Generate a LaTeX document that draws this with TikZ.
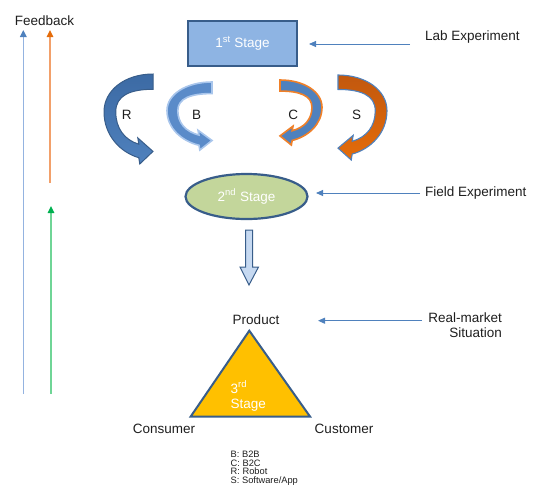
\documentclass[tikz,border=0pt]{standalone}
\usepackage{fontspec}
\setmainfont{Liberation Sans}
\usetikzlibrary{arrows.meta,shapes.geometric}

\definecolor{ink}{HTML}{1E1E1E}
\definecolor{edgeblue}{HTML}{385D8A}
\definecolor{midblue}{HTML}{4F81BD}
\definecolor{deepblue}{HTML}{3C6AA4}
\definecolor{paleblue}{HTML}{8EB4E3}
\definecolor{glowblue}{HTML}{A9C6EC}
\definecolor{softblue}{HTML}{5A8BC9}
\definecolor{orangeA}{HTML}{E46C0A}
\definecolor{orangeB}{HTML}{F08028}
\definecolor{rust}{HTML}{C2580E}
\definecolor{stagegreen}{HTML}{C3D69B}
\definecolor{gold}{HTML}{FFC000}
\definecolor{arrowfill}{HTML}{C6D9F1}
\definecolor{fbblue}{HTML}{94B3E0}
\definecolor{fborange}{HTML}{F2A06A}
\definecolor{fbgreen}{HTML}{6FD596}
\definecolor{fbgreenhead}{HTML}{00B050}

% Curved ribbon arrow in a unit frame: starts top right, bulges left,
% and ends with a head pointing right at the bottom.
\newcommand\ribbonpath{%
  (0,0) .. controls (-0.57,0) and (-1,0.18) .. (-1,0.42)
  .. controls (-1,0.68) and (-0.67,0.87) .. (-0.29,0.93)
  -- (-0.27,1) -- (0,0.86) -- (-0.31,0.71) -- (-0.29,0.78)
  .. controls (-0.59,0.73) and (-0.76,0.6) .. (-0.76,0.42)
  .. controls (-0.76,0.24) and (-0.47,0.17) .. (0,0.17) -- cycle}

\tikzset{
  txt/.style={text=ink, font=\fontsize{13.5}{15}\selectfont, inner sep=0pt},
  whitetxt/.style={text=white, font=\fontsize{13.5}{15}\selectfont, inner sep=0pt},
  pointer/.style={draw=midblue, line width=0.9pt, -{Triangle[length=7pt,width=6pt]}},
  fbline/.style={line width=1.4pt},
}

\begin{document}
\begin{tikzpicture}[x=1pt,y=-1pt]
\useasboundingbox (0,0) rectangle (537,499);

% feedback column
\node[txt] (feedback) at (44.5,21) {Feedback};
\coordinate (fbBlueBot) at (23.3,394);
\coordinate (fbBlueTop) at (23.3,30);
\coordinate (fbOrangeBot) at (50,183);
\coordinate (fbOrangeTop) at (50,30);
\coordinate (fbGreenBot) at (51,394);
\coordinate (fbGreenTop) at (51,206);
\draw[fbline, fbblue, -{Triangle[length=7pt,width=6.5pt,color=midblue]}] (fbBlueBot) -- (fbBlueTop);
\draw[fbline, fborange, -{Triangle[length=7pt,width=6.5pt,color=orangeA]}] (fbOrangeBot) -- (fbOrangeTop);
\draw[fbline, fbgreen, -{Triangle[length=7pt,width=6.5pt,color=fbgreenhead]}] (fbGreenBot) -- (fbGreenTop);

% stage 1
\node[draw=edgeblue, line width=2pt, fill=paleblue, minimum width=109, minimum height=45,
      whitetxt] (stage1) at (242.5,43.5) {1\textsuperscript{st} Stage};
\node[txt, anchor=west] (labexp) at (425,37) {Lab Experiment};
\coordinate (labTail) at (410,44);
\coordinate (labHead) at (309,44);
\draw[pointer] (labTail) -- (labHead);

% curved ribbon arrows (the y axis points down, so shading runs upside down)
\begin{scope}[shift={(153,74)}, xscale=49, yscale=90]
  \shade[top color=deepblue, bottom color=midblue] \ribbonpath;
  \draw[edgeblue, line width=1pt] \ribbonpath;
\end{scope}
\begin{scope}[shift={(212,82)}, xscale=45, yscale=68]
  \fill[softblue, draw=glowblue, line width=1.6pt] \ribbonpath;
\end{scope}
\begin{scope}[shift={(280,80)}, xscale=-42, yscale=65]
  \fill[midblue, draw=orangeB, line width=1.6pt] \ribbonpath;
\end{scope}
\begin{scope}[shift={(338,75)}, xscale=-49, yscale=85]
  \shade[top color=rust, bottom color=orangeA] \ribbonpath;
  \draw[midblue, line width=1.1pt] \ribbonpath;
\end{scope}
\node[txt] (labR) at (126.7,115) {R};
\node[txt] (labB) at (196.5,115) {B};
\node[txt] (labC) at (293.3,115) {C};
\node[txt] (labS) at (356.7,115) {S};

% stage 2
\node[ellipse, draw=edgeblue, line width=2.2pt, fill=stagegreen, minimum width=122, minimum height=45,
      whitetxt] (stage2) at (246.5,196.5) {2\textsuperscript{nd} Stage};
\node[txt, anchor=west] (fieldexp) at (425,193) {Field Experiment};
\coordinate (fieldTail) at (420,193);
\coordinate (fieldHead) at (316,193);
\draw[pointer] (fieldTail) -- (fieldHead);

% block arrow down to stage 3
\coordinate (blk) at (249,230);
\draw[edgeblue, line width=1pt, fill=arrowfill, line join=miter]
  (blk) ++(-3.5,0) -- ++(7,0) -- ++(0,37) -- ++(6,0) -- (249,285) -- (240,267) -- ++(5.5,0) -- cycle;

% stage 3
\coordinate (apex) at (249.3,330.7);
\coordinate (baseL) at (190.7,416.5);
\coordinate (baseR) at (310,416.5);
\draw[fill=gold, draw=edgeblue, line width=2pt, line join=miter] (apex) -- (baseR) -- (baseL) -- cycle;
\node[whitetxt, anchor=west, align=left, font=\fontsize{13.5}{15}\selectfont] (stage3) at (230.5,396)
  {3\textsuperscript{rd}\\Stage};
\node[txt] (product) at (256,320) {Product};
\node[txt] (consumer) at (164,429) {Consumer};
\node[txt] (customer) at (344,429) {Customer};
\node[txt, align=right, anchor=north east, font=\fontsize{13.5}{15}\selectfont] (realmkt) at (502,313)
  {Real-market\\Situation};
\coordinate (mktTail) at (422,320.7);
\coordinate (mktHead) at (318,320.7);
\draw[pointer] (mktTail) -- (mktHead);

% legend
\node[txt, anchor=north west, align=left, font=\fontsize{9.3}{8.5}\selectfont] (legend) at (230.5,451)
  {B: B2B\\C: B2C\\R: Robot\\S: Software/App};
\end{tikzpicture}
\end{document}
